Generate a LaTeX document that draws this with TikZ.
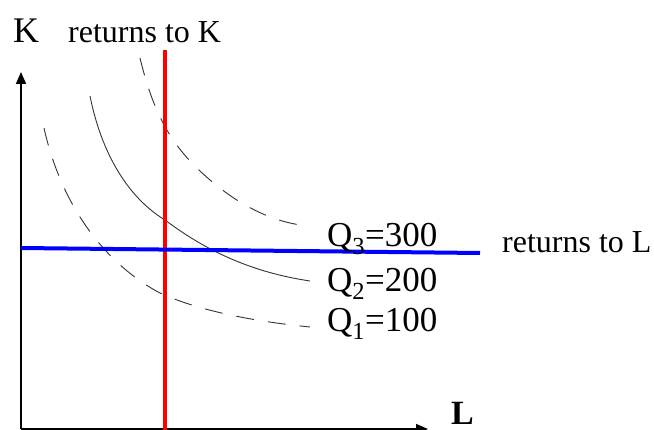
\documentclass[tikz,border=0pt]{standalone}
\usepackage{fontspec}
\setmainfont{Liberation Serif}
\usetikzlibrary{arrows.meta}
\begin{document}
\begin{tikzpicture}[x=1pt,y=-1pt,
  axis/.style={line width=1.6pt,-{Triangle[length=12pt,width=10pt]}},
  curve/.style={line width=0.9pt,black!80},
  dashcurve/.style={curve,dash pattern=on 18pt off 14pt},
  lbl/.style={anchor=base west,inner sep=0pt,font=\fontsize{32}{36}\selectfont},
  qlbl/.style={anchor=base west,inner sep=0pt,font=\fontsize{35}{40}\selectfont},
  big/.style={anchor=base west,inner sep=0pt,font=\fontsize{36}{40}\selectfont}]
\useasboundingbox (0,0) rectangle (654,430);
% axes
\coordinate (O) at (21,429);
\coordinate (Ktop) at (21,72);
\coordinate (Lend) at (428,429);
\draw[axis] (O) -- (Ktop);
\draw[axis] (O) -- (Lend);
% isoquants
\draw[dashcurve] (44,128) .. controls (60,200) and (100,260) .. (158,292)
  .. controls (200,312) and (260,322) .. (310,327);
\draw[curve] (90,96) .. controls (105,170) and (140,205) .. (165,220)
  .. controls (205,250) and (250,272) .. (310,281);
\draw[dashcurve] (140,58) .. controls (155,120) and (175,150) .. (210,180)
  .. controls (245,210) and (280,224) .. (310,226);
% lines
\coordinate (Rtop) at (165,50);
\coordinate (Rbot) at (165,430);
\draw[red,line width=4pt] (Rtop) -- (Rbot);
\coordinate (Bl) at (21,248);
\coordinate (Br) at (480,253);
\draw[blue,line width=4pt] (Bl) -- (Br);
% labels
\node[big] (K) at (13,43) {K};
\node[lbl] (rK) at (68,43) {returns to K};
\node[lbl] (rL) at (502,253) {returns to L};
\node[qlbl] (Q3) at (327,247) {Q\textsubscript{3}=300};
\node[qlbl] (Q2) at (327,292) {Q\textsubscript{2}=200};
\node[qlbl] (Q1) at (327,332) {Q\textsubscript{1}=100};
\node[big,font=\fontsize{34}{40}\selectfont\bfseries] (L) at (451,425) {L};
\end{tikzpicture}
\end{document}
